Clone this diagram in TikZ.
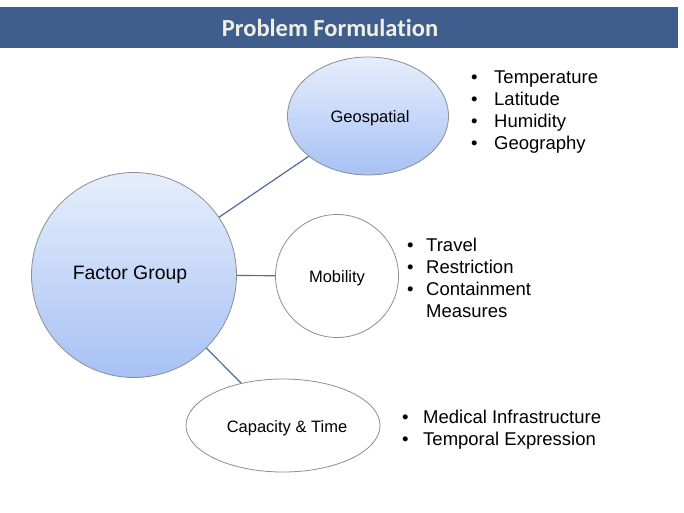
\documentclass[tikz,border=0pt]{standalone}
\usepackage{fontspec}
\setmainfont{Liberation Sans}
\newfontfamily\titlefont[Ligatures={NoCommon}]{Carlito}
\usetikzlibrary{shapes.geometric}
\definecolor{banner}{HTML}{3F5E8D}
\definecolor{titletext}{HTML}{F0F0E0}
\definecolor{shadetop}{HTML}{E6EEFC}
\definecolor{shadebot}{HTML}{A7C1F4}
\definecolor{outline}{HTML}{8E8E8E}
\definecolor{linkcol}{HTML}{4E6C9E}
\tikzset{
  bluecirc/.style={circle, draw=outline, line width=0.8pt, top color=shadetop, bottom color=shadebot, inner sep=0pt},
  blueell/.style={ellipse, draw=outline, line width=0.8pt, top color=shadetop, bottom color=shadebot, inner sep=0pt},
  whitecirc/.style={circle, draw=outline, line width=0.8pt, fill=white, inner sep=0pt},
  whiteell/.style={ellipse, draw=outline, line width=0.8pt, fill=white, inner sep=0pt},
  link/.style={draw=linkcol, line width=1.2pt},
  listbox/.style={anchor=base west, inner sep=0pt, font=\fontsize{18.5}{22}\selectfont},
  lbl/.style={font=\fontsize{16.5}{19}\selectfont}
}
\begin{document}
\begin{tikzpicture}[x=1pt,y=-1pt]
\useasboundingbox (0,0) rectangle (684,512);
\fill[white] (0,0) rectangle (684,512);
\fill[banner] (0,7) rectangle (678,48);
\node[text=titletext, font=\titlefont\bfseries\fontsize{24.5}{27}\selectfont] (title) at (330,27.5) {Problem Formulation};

\node[bluecirc, minimum size=205pt] (fg) at (134,275) {};
\node[font=\fontsize{19.4}{22}\selectfont] (fglbl) at (130,275) {Factor Group};
\node[blueell, minimum width=161pt, minimum height=118pt] (geo) at (368,116) {};
\node[lbl] (geolbl) at (370,118.5) {Geospatial};
\node[whitecirc, minimum size=123pt] (mob) at (337,276) {};
\node[lbl] (moblbl) at (337,278) {Mobility};
\node[whiteell, minimum width=194pt, minimum height=93pt] (cap) at (283,425.5) {};
\node[lbl] (caplbl) at (287,428) {Capacity \& Time};

\draw[link] (fg) -- (geo);
\draw[link] (fg) -- (mob);
\draw[link] (fg) -- (cap);

\node[listbox] (geolist) at (471,83) {\begin{tabular}[t]{@{}p{23pt}@{}l@{}}
•&Temperature\\ •&Latitude\\ •&Humidity\\ •&Geography\end{tabular}};
\node[listbox] (moblist) at (407,251) {\begin{tabular}[t]{@{}p{19pt}@{}l@{}}
•&Travel\\ •&Restriction\\ •&Containment\\ &Measures\end{tabular}};
\node[listbox] (caplist) at (402,423) {\begin{tabular}[t]{@{}p{21pt}@{}l@{}}
•&Medical Infrastructure\\ •&Temporal Expression\end{tabular}};
\end{tikzpicture}
\end{document}
